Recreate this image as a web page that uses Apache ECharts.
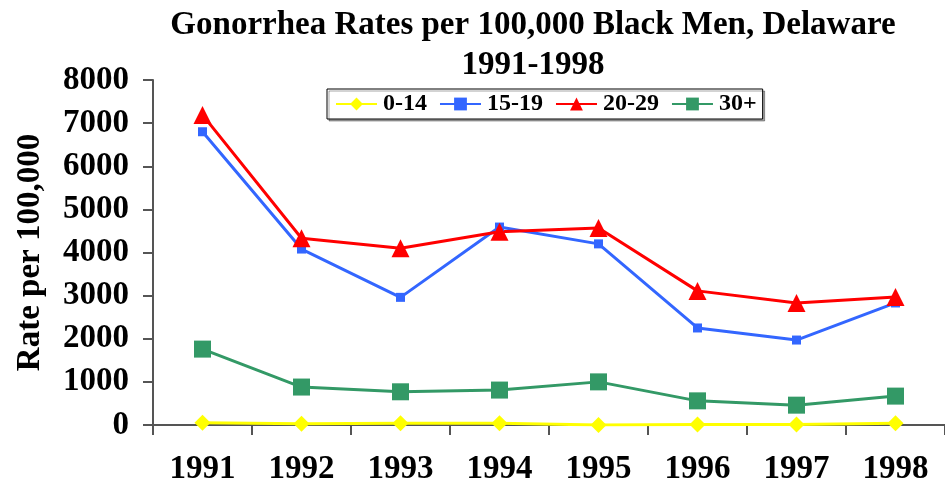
<!DOCTYPE html>
<html><head><meta charset="utf-8">
<script src="https://cdn.jsdelivr.net/npm/echarts@6/dist/echarts.min.js"></script>
<style>html,body{margin:0;padding:0;background:#fff}#c{width:945px;height:491px}</style>
</head><body><div id="c"></div>
<script>
const years = ['1991','1992','1993','1994','1995','1996','1997','1998'];
const s0_14 = [50, 30, 40, 40, 0, 10, 10, 40];
const s15_19 = [6800, 4080, 2960, 4590, 4200, 2250, 1970, 2830];
const s20_29 = [7190, 4330, 4100, 4480, 4570, 3110, 2830, 2970];
const s30p = [1760, 880, 770, 810, 1000, 560, 460, 670];
const yTicks = [0, 1000, 2000, 3000, 4000, 5000, 6000, 7000, 8000];

const font = '"Liberation Serif", "Times New Roman", serif';
const chart = echarts.init(document.getElementById('c'));
function ser(name, data, color, symbol, size) {
  return {name, type:'line', data, symbol, symbolSize:size, showAllSymbol:true,
    lineStyle:{color, width:3}, itemStyle:{color}, z: 2};
}
chart.setOption({
  animation:false,
  title:{text:'Gonorrhea Rates per 100,000 Black Men, Delaware\n1991-1998', left:528, textAlign:'center', top:0,
    textStyle:{fontFamily:font, fontWeight:'bold', fontSize:33, lineHeight:40, color:'#000'}},
  legend:{left:327, top:89, borderColor:'#000', borderWidth:1, padding:[3,6,3,8],
    itemWidth:41, itemHeight:16, itemGap:12, backgroundColor:'#fff',
    shadowColor:'rgba(0,0,0,0.35)', shadowOffsetX:2, shadowOffsetY:2, shadowBlur:0,
    textStyle:{fontFamily:font, fontWeight:'bold', fontSize:24, color:'#000', padding:[0,0,0,1]},
    data:['0-14','15-19','20-29','30+']},
  grid:{left:153, right:-11, top:80, bottom:66, containLabel:false},
  xAxis:{type:'category', data:years, boundaryGap:true,
    axisLine:{lineStyle:{color:'#555', width:2}},
    axisTick:{show:true, length:10, lineStyle:{color:'#555', width:2}},
    axisLabel:{fontFamily:font, fontWeight:'bold', fontSize:33, color:'#000', margin:28}},
  yAxis:{type:'value', min:0, max:8000, interval:1000,
    name:'Rate per 100,000', nameLocation:'middle', nameGap:106, nameRotate:90,
    nameTextStyle:{fontFamily:font, fontWeight:'bold', fontSize:33, color:'#000'},
    axisLine:{show:true, lineStyle:{color:'#555', width:2}},
    axisTick:{show:true, length:10, inside:false, lineStyle:{color:'#555', width:2}},
    splitLine:{show:false},
    axisLabel:{fontFamily:font, fontWeight:'bold', fontSize:33, color:'#000', margin:24,
      customValues: yTicks, formatter: v => String(v)}},
  series:[
    ser('0-14', s0_14, '#ffff00', 'diamond', 16),
    ser('15-19', s15_19, '#3366ff', 'rect', 9),
    ser('20-29', s20_29, '#ff0000', 'triangle', 18),
    ser('30+', s30p, '#339966', 'rect', 17)
  ]
});
</script></body></html>
